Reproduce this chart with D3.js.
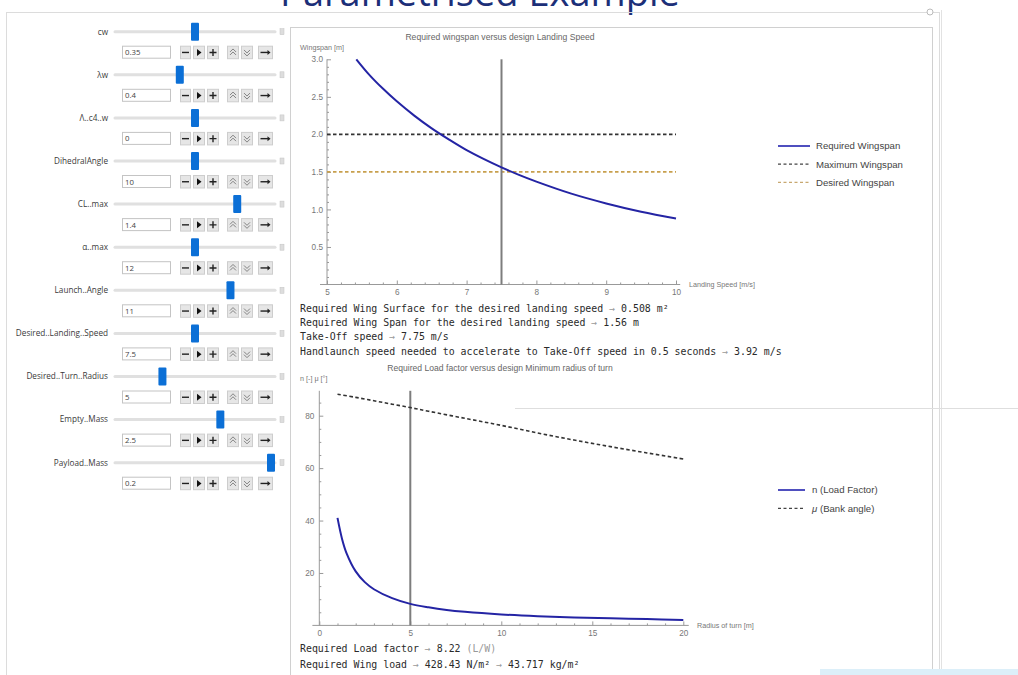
<!DOCTYPE html>
<html>
<head>
<meta charset="utf-8">
<script src="https://cdn.jsdelivr.net/npm/d3@7"></script>
<style>
  body { margin: 0; background: #fff; overflow: hidden; }
  .mono { font-family: "DejaVu Sans Mono", "Liberation Mono", monospace; font-size: 9.9px; fill: #2a2a2a; }
  .arrow { fill: #999; }
  .ctl { font-family: "Open Sans", "DejaVu Sans", sans-serif; font-size: 8.2px; fill: #3a3a3a; }
  .val { font-family: "Open Sans", "DejaVu Sans", sans-serif; font-size: 7.8px; fill: #444; }
  .tick text { font-family: "Liberation Sans", Arial, sans-serif; font-size: 8.2px; fill: #777; }
  .ttl { font-family: "Liberation Sans", Arial, sans-serif; font-size: 8.6px; fill: #666; }
  .axlab { font-family: "Liberation Sans", Arial, sans-serif; font-size: 7.2px; fill: #777; }
  .leg { font-family: "Liberation Sans", Arial, sans-serif; font-size: 9.6px; fill: #444; }
</style>
</head>
<body>
<div id="chart"></div>
<script>
// slider controls
const controlNames = ["cw", "λw", "Λ..c4..w", "DihedralAngle", "CL..max", "α..max", "Launch..Angle",
  "Desired..Landing..Speed", "Desired..Turn..Radius", "Empty..Mass", "Payload..Mass"];
const controlValues = [0.35, 0.4, 0, 10, 1.4, 12, 11, 7.5, 5, 2.5, 0.2];
const controlMin = [0, 0, -45, 0, 0, 0, 0, 5, 1, 0.5, 0];
const controlMax = [0.7, 1, 45, 20, 1.8, 24, 15, 10, 15, 3.5, 0.2];

// wingspan vs landing speed
const landingSpeed = [5.42, 5.6, 5.8, 6.0, 6.25, 6.5, 6.75, 7.0, 7.25, 7.5, 7.75, 8.0, 8.5, 9.0, 9.5, 10.0];
const requiredSpan = [3.0, 2.80, 2.61, 2.44, 2.25, 2.08, 1.93, 1.79, 1.67, 1.56, 1.46, 1.37, 1.21, 1.08, 0.97, 0.88];
const maxSpan = 2.0;
const desiredSpan = 1.5;
const designSpeed = 7.5;
const speedTicks = [5, 6, 7, 8, 9, 10];
const spanTicks = [0.5, 1.0, 1.5, 2.0, 2.5, 3.0];

// load factor / bank angle vs radius of turn
const turnRadius = [1, 1.25, 1.5, 2, 2.5, 3, 4, 5, 6, 7, 8, 10, 12, 14, 16, 18, 20];
const loadFactor = [41, 33, 27.5, 20.6, 16.5, 13.8, 10.4, 8.22, 6.9, 5.9, 5.2, 4.2, 3.5, 3.0, 2.7, 2.4, 2.1];
const bankRadius = [1, 2, 3, 4, 5, 6, 8, 10, 12, 14, 16, 18, 20];
const bankAngle = [88.2, 87.0, 85.7, 84.4, 83.1, 81.7, 79.0, 76.3, 73.4, 70.7, 68.2, 65.8, 63.5];
const designRadius = 5;
const radiusTicks = [0, 5, 10, 15, 20];
const nTicks = [20, 40, 60, 80];

const topLines = [
  ["Required Wing Surface for the desired landing speed ", "0.508 m²"],
  ["Required Wing Span for the desired landing speed ", "1.56 m"],
  ["Take-Off speed ", "7.75 m/s"],
  ["Handlaunch speed needed to accelerate to Take-Off speed in 0.5 seconds ", "3.92 m/s"]
];
const bottomLines = [
  ["Required Load factor ", "8.22 ", "(L/W)"],
  ["Required Wing load ", "428.43 N/m² ", "43.717 kg/m²"]
];

const svg = d3.select("#chart").append("svg")
  .attr("width", 1018).attr("height", 675);

// heading, cut off by the top of the window as in the source
svg.append("text")
  .attr("x", 480).attr("y", 6)
  .attr("text-anchor", "middle")
  .style("font-family", "Open Sans, sans-serif")
  .style("font-size", "38px")
  .style("fill", "#1c2f78")
  .text("Parametrised Example");

// frames
svg.append("rect").attr("x", 6.5).attr("y", 12.5).attr("width", 933).attr("height", 700)
  .attr("fill", "none").attr("stroke", "#dcdcdc");
svg.append("rect").attr("x", 290.5).attr("y", 27.5).attr("width", 642).attr("height", 700)
  .attr("fill", "none").attr("stroke", "#d0d0d0");
svg.append("circle").attr("cx", 930).attr("cy", 12).attr("r", 3)
  .attr("fill", "#fff").attr("stroke", "#bbb");
svg.append("line").attr("x1", 941.5).attr("x2", 941.5).attr("y1", 10).attr("y2", 675)
  .attr("stroke", "#e2e2e2");
svg.append("line").attr("x1", 515).attr("x2", 1018).attr("y1", 408.5).attr("y2", 408.5)
  .attr("stroke", "#dedede");
svg.append("rect").attr("x", 820).attr("y", 669).attr("width", 198).attr("height", 6)
  .attr("fill", "#dceff9");

// ---------- controls ----------
const ctl = svg.append("g");
controlNames.forEach((name, i) => {
  const y0 = 31.7 + i * 43.1;
  const thumb = d3.scaleLinear([controlMin[i], controlMax[i]], [119, 271]).clamp(true);
  const g = ctl.append("g");
  g.append("text").attr("class", "ctl").attr("x", 108).attr("y", y0 + 2.8)
    .attr("text-anchor", "end").text(name);
  g.append("line").attr("x1", 115).attr("x2", 275).attr("y1", y0).attr("y2", y0)
    .attr("stroke", "#e0e0e0").attr("stroke-width", 3).attr("stroke-linecap", "round");
  g.append("rect").attr("x", thumb(controlValues[i]) - 4).attr("y", y0 - 9)
    .attr("width", 8).attr("height", 18).attr("rx", 1).attr("fill", "#0b6fd6");
  // little menu icon
  g.append("rect").attr("x", 280).attr("y", y0 - 3).attr("width", 4).attr("height", 6)
    .attr("fill", "#ddd").attr("stroke", "#c4c4c4").attr("stroke-width", 0.5);
  // input field
  g.append("rect").attr("x", 122.5).attr("y", y0 + 14.5).attr("width", 48).attr("height", 12)
    .attr("fill", "#fff").attr("stroke", "#c4c4c4");
  g.append("text").attr("class", "val").attr("x", 125).attr("y", y0 + 23.5)
    .text(controlValues[i]);
  // buttons
  const btns = [[180, 10, "minus"], [193, 11, "play"], [207, 11, "plus"],
                [227, 11, "faster"], [241, 11, "slower"], [258, 14, "dir"]];
  btns.forEach(([bx, bw, kind]) => {
    const by = y0 + 14.5;
    g.append("rect").attr("x", bx + 0.5).attr("y", by).attr("width", bw).attr("height", 12.5)
      .attr("fill", "#e6e6e6").attr("stroke", "#cdcdcd");
    const cx = bx + 0.5 + bw / 2, cy = by + 6.25;
    let d = "";
    if (kind === "minus") d = `M${cx - 3.5},${cy}H${cx + 3.5}`;
    if (kind === "plus") d = `M${cx - 3.5},${cy}H${cx + 3.5}M${cx},${cy - 3.5}V${cy + 3.5}`;
    if (kind === "faster") d = `M${cx - 3},${cy - 0.5}L${cx},${cy - 3.5}L${cx + 3},${cy - 0.5}M${cx - 3},${cy + 2.5}L${cx},${cy - 0.5}L${cx + 3},${cy + 2.5}`;
    if (kind === "slower") d = `M${cx - 3},${cy - 2.5}L${cx},${cy + 0.5}L${cx + 3},${cy - 2.5}M${cx - 3},${cy + 0.5}L${cx},${cy + 3.5}L${cx + 3},${cy + 0.5}`;
    if (kind === "dir") d = `M${cx - 5},${cy}H${cx + 3}`;
    if (kind === "play") {
      g.append("path").attr("d", `M${cx - 2},${cy - 3.5}L${cx + 2.5},${cy}L${cx - 2},${cy + 3.5}Z`).attr("fill", "#111");
    } else {
      g.append("path").attr("d", d).attr("fill", "none")
        .attr("stroke", kind === "faster" || kind === "slower" ? "#777" : "#222")
        .attr("stroke-width", kind === "faster" || kind === "slower" ? 0.9 : 1.4);
    }
    if (kind === "dir") {
      g.append("path").attr("d", `M${cx + 2},${cy - 2.5}L${cx + 5},${cy}L${cx + 2},${cy + 2.5}Z`).attr("fill", "#222");
    }
  });
});

// helper for Mathematica-like axes
function styleAxis(g) {
  g.selectAll(".tick line").attr("stroke", "#999");
  g.selectAll(".domain").remove();
}
function minorTicks(lo, hi, step, majors) {
  const out = [];
  for (let k = Math.round(lo / step); k * step <= hi + 1e-9; k++) {
    const v = +(k * step).toFixed(6);
    if (!majors.some(m => Math.abs(m - v) < 1e-6)) out.push(v);
  }
  return out;
}

// ---------- top chart ----------
const x1 = d3.scaleLinear([5, 10], [327, 676]);
const y1 = d3.scaleLinear([0, 3], [284.5, 59.3]);
const topG = svg.append("g");

topG.append("text").attr("class", "ttl").attr("x", 500).attr("y", 40)
  .attr("text-anchor", "middle").text("Required wingspan versus design Landing Speed");
topG.append("text").attr("class", "axlab").attr("x", 300).attr("y", 50).text("Wingspan [m]");
topG.append("text").attr("class", "axlab").attr("x", 689).attr("y", 287).text("Landing Speed [m/s]");

topG.append("line").attr("x1", x1(4.9)).attr("x2", x1(10.06)).attr("y1", y1(0)).attr("y2", y1(0))
  .attr("stroke", "#999");
topG.append("line").attr("x1", x1(5)).attr("x2", x1(5)).attr("y1", y1(0)).attr("y2", y1(3))
  .attr("stroke", "#999");

topG.append("g").attr("transform", `translate(0,${y1(0)})`)
  .call(d3.axisBottom(x1).tickValues(speedTicks).tickFormat(d3.format("d"))
    .tickSizeInner(-4).tickSizeOuter(0).tickPadding(5)).call(styleAxis);
topG.append("g").attr("transform", `translate(0,${y1(0)})`)
  .call(d3.axisBottom(x1).tickValues(minorTicks(5, 10, 0.2, speedTicks)).tickFormat("")
    .tickSizeInner(-2).tickSizeOuter(0)).call(styleAxis);
topG.append("g").attr("transform", `translate(${x1(5)},0)`)
  .call(d3.axisLeft(y1).tickValues(spanTicks).tickFormat(d3.format(".1f"))
    .tickSizeInner(-4).tickSizeOuter(0).tickPadding(4)).call(styleAxis);
topG.append("g").attr("transform", `translate(${x1(5)},0)`)
  .call(d3.axisLeft(y1).tickValues(minorTicks(0.1, 3, 0.1, spanTicks)).tickFormat("")
    .tickSizeInner(-2).tickSizeOuter(0)).call(styleAxis);

topG.append("line").attr("x1", x1(5)).attr("x2", x1(10)).attr("y1", y1(maxSpan)).attr("y2", y1(maxSpan))
  .attr("stroke", "#333").attr("stroke-width", 1.6).attr("stroke-dasharray", "3.5,2.5");
topG.append("line").attr("x1", x1(5)).attr("x2", x1(10)).attr("y1", y1(desiredSpan)).attr("y2", y1(desiredSpan))
  .attr("stroke", "#c8a04e").attr("stroke-width", 1.6).attr("stroke-dasharray", "3.5,2.5");
topG.append("line").attr("x1", x1(designSpeed)).attr("x2", x1(designSpeed)).attr("y1", y1(0)).attr("y2", y1(3))
  .attr("stroke", "#7d7d7d").attr("stroke-width", 2);

const line1 = d3.line().x((d, i) => x1(landingSpeed[i])).y(d => y1(d)).curve(d3.curveCatmullRom);
topG.append("path").datum(requiredSpan).attr("d", line1)
  .attr("fill", "none").attr("stroke", "#2424a4").attr("stroke-width", 2);

// top legend
const leg1 = [["Required Wingspan", "#3b3bb8", null], ["Maximum Wingspan", "#444", "3,2.5"], ["Desired Wingspan", "#c8a870", "3,2.5"]];
leg1.forEach(([t, c, dash], i) => {
  const ly = 146 + i * 18.2;
  topG.append("line").attr("x1", 778).attr("x2", 810).attr("y1", ly).attr("y2", ly)
    .attr("stroke", c).attr("stroke-width", dash ? 1.2 : 1.8).attr("stroke-dasharray", dash);
  topG.append("text").attr("class", "leg").attr("x", 816).attr("y", ly + 3.4).text(t);
});

// top text block
topLines.forEach((l, i) => {
  const t = svg.append("text").attr("class", "mono").attr("x", 300).attr("y", 312 + i * 14.2);
  t.append("tspan").text(l[0]);
  t.append("tspan").attr("class", "arrow").text("→ ");
  t.append("tspan").text(l[1]);
});

// ---------- bottom chart ----------
const x2 = d3.scaleLinear([0, 20], [319.3, 683.3]);
const y2 = d3.scaleLinear([0, 80], [625.4, 415.7]);
const botG = svg.append("g");

botG.append("text").attr("class", "ttl").attr("x", 500).attr("y", 371)
  .attr("text-anchor", "middle").text("Required Load factor versus design Minimum radius of turn");
botG.append("text").attr("class", "axlab").attr("x", 300).attr("y", 381).text("n [-] μ [°]");
botG.append("text").attr("class", "axlab").attr("x", 697).attr("y", 628).text("Radius of turn [m]");

botG.append("line").attr("x1", x2(-0.38)).attr("x2", x2(20.3)).attr("y1", y2(0)).attr("y2", y2(0))
  .attr("stroke", "#999");
botG.append("line").attr("x1", x2(0)).attr("x2", x2(0)).attr("y1", y2(0)).attr("y2", y2(89.5))
  .attr("stroke", "#999");

botG.append("g").attr("transform", `translate(0,${y2(0)})`)
  .call(d3.axisBottom(x2).tickValues(radiusTicks).tickFormat(d3.format("d"))
    .tickSizeInner(-4).tickSizeOuter(0).tickPadding(5)).call(styleAxis);
botG.append("g").attr("transform", `translate(0,${y2(0)})`)
  .call(d3.axisBottom(x2).tickValues(minorTicks(0, 20, 1, radiusTicks)).tickFormat("")
    .tickSizeInner(-2).tickSizeOuter(0)).call(styleAxis);
botG.append("g").attr("transform", `translate(${x2(0)},0)`)
  .call(d3.axisLeft(y2).tickValues(nTicks).tickFormat(d3.format("d"))
    .tickSizeInner(-4).tickSizeOuter(0).tickPadding(5)).call(styleAxis);
botG.append("g").attr("transform", `translate(${x2(0)},0)`)
  .call(d3.axisLeft(y2).tickValues(minorTicks(5, 85, 5, nTicks)).tickFormat("")
    .tickSizeInner(-2).tickSizeOuter(0)).call(styleAxis);

botG.append("line").attr("x1", x2(designRadius)).attr("x2", x2(designRadius))
  .attr("y1", y2(0)).attr("y2", y2(89.5))
  .attr("stroke", "#7d7d7d").attr("stroke-width", 2);

const line2 = d3.line().x((d, i) => x2(bankRadius[i])).y(d => y2(d)).curve(d3.curveCatmullRom);
botG.append("path").datum(bankAngle).attr("d", line2)
  .attr("fill", "none").attr("stroke", "#333").attr("stroke-width", 1.6).attr("stroke-dasharray", "3.5,2.5");

const line3 = d3.line().x((d, i) => x2(turnRadius[i])).y(d => y2(d)).curve(d3.curveCatmullRom);
botG.append("path").datum(loadFactor).attr("d", line3)
  .attr("fill", "none").attr("stroke", "#2424a4").attr("stroke-width", 2);

// bottom legend
const leg2 = [["n (Load Factor)", "#3b3bb8", null], ["μ (Bank angle)", "#444", "3,2.5"]];
leg2.forEach(([t, c, dash], i) => {
  const ly = 490 + i * 18.3;
  botG.append("line").attr("x1", 778).attr("x2", 805).attr("y1", ly).attr("y2", ly)
    .attr("stroke", c).attr("stroke-width", dash ? 1.2 : 1.8).attr("stroke-dasharray", dash);
  const tx = botG.append("text").attr("class", "leg").attr("x", 812).attr("y", ly + 3.4);
  if (i === 1) {
    tx.append("tspan").style("font-style", "italic").text("μ");
    tx.append("tspan").text(t.slice(1));
  } else tx.text(t);
});

// bottom text block
bottomLines.forEach((l, i) => {
  const t = svg.append("text").attr("class", "mono").attr("x", 300).attr("y", 652 + i * 15.6);
  t.append("tspan").text(l[0]);
  t.append("tspan").attr("class", "arrow").text("→ ");
  t.append("tspan").text(l[1]);
  if (i === 0) t.append("tspan").style("fill", "#999").text(l[2]);
  else {
    t.append("tspan").attr("class", "arrow").text("→ ");
    t.append("tspan").text(l[2]);
  }
});
</script>
</body>
</html>
